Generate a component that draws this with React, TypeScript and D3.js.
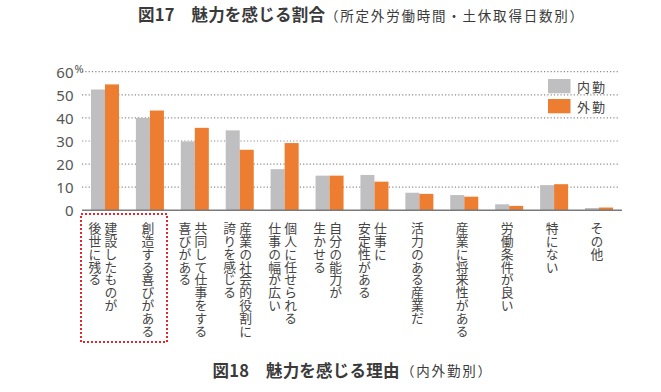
import React from "react";
import * as d3 from "d3";

const categories = [
  "建設したものが\n後世に残る",
  "創造する喜びがある",
  "共同して仕事をする\n喜びがある",
  "産業の社会的役割に\n誇りを感じる",
  "個人に任せられる\n仕事の幅が広い",
  "自分の能力が\n生かせる",
  "仕事に\n安定性がある",
  "活力のある産業だ",
  "産業に将来性がある",
  "労働条件が良い",
  "特にない",
  "その他",
];
const seriesNames = ["内勤", "外勤"];
const naikin = [52.3, 40.0, 29.8, 34.6, 17.8, 15.0, 15.3, 7.6, 6.6, 2.6, 10.9, 1.0];
const gaikin = [54.5, 43.2, 35.7, 26.2, 29.1, 15.0, 12.4, 7.1, 5.9, 1.9, 11.3, 1.2];
const yTicks = [0, 10, 20, 30, 40, 50, 60];
const colors = ["#bfbfc1", "#ed7d31"];
const titleTop = "図17　魅力を感じる割合";
const titleTopSub = "（所定外労働時間・土休取得日数別）";
const titleBottom = "図18　魅力を感じる理由";
const titleBottomSub = "（内外勤別）";

const JP = "'Noto Sans CJK JP', 'Noto Sans', sans-serif";

export default function App() {
  const x = d3.scaleBand<number>().domain(d3.range(categories.length)).range([82, 622]).paddingInner(0.376).paddingOuter(0.2);
  const xs = d3.scaleBand<string>().domain(seriesNames).range([0, x.bandwidth()]).padding(0);
  const y = d3.scaleLinear().domain([0, 60]).range([210.3, 71.7]);
  const series = [naikin, gaikin];

  return (
    <svg width={661} height={392} style={{ position: "absolute", left: 0, top: 0, background: "#fff" }}>
      {/* titles */}
      <text x={138} y={14} dominantBaseline="central" fontFamily={JP} fill="#3a3a3a" fontSize={16.5} fontWeight="bold" textLength={187} lengthAdjust="spacing">{titleTop}</text>
      <text x={325} y={14.5} dominantBaseline="central" fontFamily={JP} fill="#3a3a3a" fontSize={13.5} textLength={258} lengthAdjust="spacing">{titleTopSub}</text>
      <text x={212.5} y={369.5} dominantBaseline="central" fontFamily={JP} fill="#3a3a3a" fontSize={16.5} fontWeight="bold" textLength={187} lengthAdjust="spacing">{titleBottom}</text>
      <text x={401} y={370} dominantBaseline="central" fontFamily={JP} fill="#3a3a3a" fontSize={13.5} textLength={90} lengthAdjust="spacing">{titleBottomSub}</text>

      {/* gridlines */}
      {yTicks.filter((t) => t > 0).map((t) => (
        <line key={t} x1={82} x2={618} y1={y(t)} y2={y(t)} stroke="#8a8a8a" strokeWidth={1.2} strokeDasharray="1.2 2.1" />
      ))}
      {/* y labels */}
      {yTicks.map((t) => (
        <text key={t} x={73.5} y={y(t)} textAnchor="end" dominantBaseline="central" fontFamily="'Noto Sans', sans-serif" fontSize={15} fill="#555">
          {t}
        </text>
      ))}
      <text x={74.5} y={y(60) - 3} dominantBaseline="central" fontFamily="'Noto Sans', sans-serif" fontSize={11} fill="#555">%</text>

      {/* bars */}
      {categories.map((c, i) => (
        <g key={i}>
          {seriesNames.map((s, j) => (
            <rect key={s} x={(x(i) as number) + (xs(s) as number)} y={y(series[j][i])} width={xs.bandwidth()} height={y(0) - y(series[j][i])} fill={colors[j]} />
          ))}
        </g>
      ))}
      {/* baseline */}
      <line x1={82} x2={622} y1={y(0)} y2={y(0)} stroke="#7a7a7a" strokeWidth={1.5} />

      {/* category labels, vertical */}
      {categories.map((c, i) => {
        const lines = c.split("\n");
        const cx = (x(i) as number) + x.bandwidth() / 2 - 2;
        return lines.map((ln, k) => {
          const off = lines.length === 1 ? 0 : k === 0 ? 8 : -8;
          return (
            <text key={i + "-" + k} x={cx + off} y={222} fontFamily={JP} fontSize={12.8} fill="#444"
              style={{ writingMode: "vertical-rl", textOrientation: "upright" } as any}>
              {ln}
            </text>
          );
        });
      })}

      {/* highlight box */}
      <rect x={81} y={214} width={86} height={128} fill="none" stroke="#e3262b" strokeWidth={2} strokeDasharray="2 2" />

      {/* legend */}
      {seriesNames.map((s, j) => (
        <g key={s}>
          <rect x={548} y={79 + j * 20} width={22.5} height={14.3} fill={colors[j]} />
          <text x={577} y={86.2 + j * 20} dominantBaseline="central" fontFamily={JP} fontSize={13} fill="#444" textLength={28} lengthAdjust="spacing">
            {s}
          </text>
        </g>
      ))}
    </svg>
  );
}
